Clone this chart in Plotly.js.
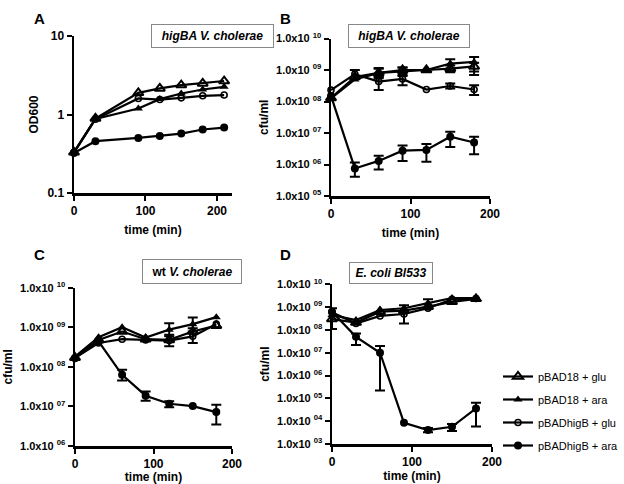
<!DOCTYPE html>
<html><head><meta charset="utf-8">
<script src="https://cdn.plot.ly/plotly-3.0.1.min.js"></script>
<style>html,body{margin:0;padding:0;background:#fff}#chart{width:624px;height:484px}</style>
</head><body><div id="chart"></div>
<script>
// ---------- DATA ----------
const seriesNames = ['pBAD18 + glu', 'pBAD18 + ara', 'pBADhigB + glu', 'pBADhigB + ara'];

// Panel A: OD600, higBA V. cholerae
const timeA = [0, 30, 90, 120, 150, 180, 210];
const odA_glu18  = [0.33, 0.89, 1.89, 2.15, 2.37, 2.49, 2.67];
const odA_ara18  = [0.33, 0.88, 1.19, 1.57, 1.85, 2.08, 2.25];
const odA_gluHig = [0.33, 0.87, 1.60, 1.55, 1.63, 1.73, 1.77];
const odA_araHig = [0.324, 0.457, 0.503, 0.534, 0.572, 0.644, 0.682];

// Panels B-D share time points
const timeBCD = [0, 30, 60, 90, 120, 150, 180];

// Panel B: cfu/ml, higBA V. cholerae
const cfuB_glu18     = [1.3e8, 6.0e8, 8.1e8, 1.0e9, 1.0e9, 1.1e9, 1.3e9];
const cfuB_glu18_hi  = [null, null, 1.1e9, 1.2e9, null, 1.4e9, 1.7e9];
const cfuB_glu18_lo  = [null, null, 6.0e8, 8.0e8, null, 8.5e8, 9.0e8];
const cfuB_ara18     = [1.26e8, 5.0e8, 8.1e8, 8.8e8, 1.0e9, 1.6e9, 1.8e9];
const cfuB_ara18_hi  = [null, null, 1.15e9, 1.2e9, null, 2.2e9, 2.6e9];
const cfuB_ara18_lo  = [null, null, 5.5e8, 6.5e8, null, 1.1e9, 7.0e8];
const cfuB_gluHig    = [2.3e8, 7.4e8, 4.3e8, 5.2e8, 2.4e8, 3.1e8, 2.4e8];
const cfuB_gluHig_hi = [null, 1.0e9, 6.5e8, 6.9e8, null, 3.7e8, 3.3e8];
const cfuB_gluHig_lo = [null, 5.5e8, 2.3e8, 3.3e8, null, 2.6e8, 1.6e8];
const cfuB_araHig    = [1.5e8, 7.5e5, 1.3e6, 2.75e6, 2.9e6, 7.6e6, 5.0e6];
const cfuB_araHig_hi = [null, 1.15e6, 1.9e6, 4.0e6, 4.5e6, 1.1e7, 7.6e6];
const cfuB_araHig_lo = [null, 4.1e5, 7.0e5, 1.3e6, 1.23e6, 3.6e6, 2.1e6];

// Panel C: cfu/ml, wt V. cholerae
const cfuC_glu18     = [1.7e8, 4.8e8, 7.8e8, 5.0e8, 4.8e8, 7.8e8, 1.1e9];
const cfuC_glu18_hi  = [null, null, null, null, 6.5e8, null, null];
const cfuC_glu18_lo  = [null, null, null, null, 3.3e8, null, null];
const cfuC_ara18     = [1.8e8, 5.6e8, 1.0e9, 5.5e8, 8.7e8, 1.2e9, 1.8e9];
const cfuC_ara18_hi  = [null, null, null, null, 1.26e9, 1.77e9, null];
const cfuC_ara18_lo  = [null, null, null, null, 5.9e8, 7.8e8, null];
const cfuC_gluHig    = [1.7e8, 4.0e8, 5.0e8, 4.8e8, 4.6e8, 5.9e8, 1.2e9];
const cfuC_gluHig_hi = [null, null, null, null, null, 9.5e8, null];
const cfuC_gluHig_lo = [null, null, null, null, null, 4.0e8, null];
const cfuC_araHig    = [1.66e8, 4.4e8, 6.3e7, 1.87e7, 1.17e7, 1.02e7, 7.2e6];
const cfuC_araHig_hi = [null, null, 8.5e7, 2.4e7, 1.35e7, null, 1.1e7];
const cfuC_araHig_lo = [null, null, 4.5e7, 1.4e7, 9.5e6, null, 3.5e6];

// Panel D: cfu/ml, E. coli Bl533
const cfuD_glu18     = [3.0e8, 2.1e8, 6.3e8, 7.0e8, 1.05e9, 1.7e9, 2.3e9];
const cfuD_glu18_hi  = [null, null, null, null, null, null, null];
const cfuD_glu18_lo  = [null, null, null, null, null, null, null];
const cfuD_ara18     = [4.5e8, 2.7e8, 7.5e8, 8.9e8, 1.5e9, 2.5e9, 2.5e9];
const cfuD_ara18_hi  = [null, null, null, null, 2.2e9, null, null];
const cfuD_ara18_lo  = [null, null, null, null, 9.0e8, null, null];
const cfuD_gluHig    = [6.0e8, 1.9e8, 4.1e8, 5.0e8, 9.0e8, 2.2e9, 2.4e9];
const cfuD_gluHig_hi = [null, null, null, 1.2e9, null, null, null];
const cfuD_gluHig_lo = [null, null, null, 1.9e8, null, null, null];
const cfuD_araHig    = [6.3e8, 5.0e7, 1.0e7, 8.5e3, 4.1e3, 5.7e3, 3.6e4];
const cfuD_araHig_hi = [8.9e8, 7.0e7, 2.0e7, null, 5.0e3, 7.6e3, 6.5e4];
const cfuD_araHig_lo = [1.1e8, 2.2e7, 2.2e5, null, 3.3e3, 3.7e3, 5.8e3];

// tick labels
const tickA_vals = [0.1, 1, 10];
const tickA_text = ['0.1', '1', '10'];
const xTicks = [0, 100, 200];
const expB = [5, 6, 7, 8, 9, 10];
const expC = [6, 7, 8, 9, 10];
const expD = [3, 4, 5, 6, 7, 8, 9, 10];

// ---------- BUILD ----------
const FONT = 'Liberation Sans, Arial, sans-serif';
const markerStyles = [
  {symbol: 'triangle-up-open', size: 9, line: {width: 2, color: '#000'}, color: '#000'},
  {symbol: 'triangle-up', size: 8, color: '#000'},
  {symbol: 'circle-open', size: 6, line: {width: 1.6, color: '#000'}, color: '#000'},
  {symbol: 'circle', size: 8, color: '#000'}
];

function errObj(y, hi, lo) {
  if (!hi) return {visible: false};
  return {
    type: 'data', symmetric: false, visible: true,
    array: y.map((v, i) => hi[i] == null ? NaN : hi[i] - v),
    arrayminus: y.map((v, i) => lo[i] == null ? NaN : v - lo[i]),
    color: '#000', thickness: 2, width: 5
  };
}

const traces = [];
function add(x, y, hi, lo, k, xa, ya, show) {
  traces.push({
    type: 'scatter', mode: 'lines+markers', x: x, y: y,
    xaxis: xa, yaxis: ya, name: seriesNames[k], legendgroup: seriesNames[k],
    showlegend: !!show, cliponaxis: false,
    line: {color: '#000', width: 2.2},
    marker: markerStyles[k],
    error_y: errObj(y, hi, lo)
  });
}

add(timeA, odA_glu18, null, null, 0, 'x', 'y');
add(timeA, odA_ara18, null, null, 1, 'x', 'y');
add(timeA, odA_gluHig, null, null, 2, 'x', 'y');
add(timeA, odA_araHig, null, null, 3, 'x', 'y');

add(timeBCD, cfuB_glu18, cfuB_glu18_hi, cfuB_glu18_lo, 0, 'x2', 'y2');
add(timeBCD, cfuB_ara18, cfuB_ara18_hi, cfuB_ara18_lo, 1, 'x2', 'y2');
add(timeBCD, cfuB_gluHig, cfuB_gluHig_hi, cfuB_gluHig_lo, 2, 'x2', 'y2');
add(timeBCD, cfuB_araHig, cfuB_araHig_hi, cfuB_araHig_lo, 3, 'x2', 'y2');

add(timeBCD, cfuC_glu18, cfuC_glu18_hi, cfuC_glu18_lo, 0, 'x3', 'y3');
add(timeBCD, cfuC_ara18, cfuC_ara18_hi, cfuC_ara18_lo, 1, 'x3', 'y3');
add(timeBCD, cfuC_gluHig, cfuC_gluHig_hi, cfuC_gluHig_lo, 2, 'x3', 'y3');
add(timeBCD, cfuC_araHig, cfuC_araHig_hi, cfuC_araHig_lo, 3, 'x3', 'y3');

add(timeBCD, cfuD_glu18, cfuD_glu18_hi, cfuD_glu18_lo, 0, 'x4', 'y4', true);
add(timeBCD, cfuD_ara18, cfuD_ara18_hi, cfuD_ara18_lo, 1, 'x4', 'y4', true);
add(timeBCD, cfuD_gluHig, cfuD_gluHig_hi, cfuD_gluHig_lo, 2, 'x4', 'y4', true);
add(timeBCD, cfuD_araHig, cfuD_araHig_hi, cfuD_araHig_lo, 3, 'x4', 'y4', true);

const W = 624, H = 484;
const px = v => v / W;
const py = v => 1 - v / H;

const base = {
  showline: true, linewidth: 2.5, linecolor: '#000', ticks: 'outside', ticklen: 5,
  tickwidth: 2, tickcolor: '#000', showgrid: false, zeroline: false, fixedrange: true,
  tickfont: {family: FONT, size: 12, color: '#000', weight: 'bold'}
};
function xAxis(dom, range, anchor, standoff) {
  return Object.assign({}, base, {
    domain: dom, range: range, anchor: anchor, tickvals: xTicks, ticktext: xTicks.map(String),
    title: {text: 'time (min)', font: {family: FONT, size: 12, color: '#000', weight: 'bold'}, standoff: standoff}
  });
}
function yAxisCfu(dom, exps, anchor) {
  return Object.assign({}, base, {
    type: 'log', domain: dom, anchor: anchor,
    range: [exps[0], exps[exps.length - 1]],
    tickvals: exps.map(e => Math.pow(10, e)),
    ticktext: exps.map(e => '1.0x10 <sup>' + (e < 10 ? '0' + e : e) + '</sup>'),
    tickfont: {family: FONT, size: 11, color: '#000', weight: 'bold'},
    title: {text: 'cfu/ml', font: {family: FONT, size: 12, color: '#000', weight: 'bold'}, standoff: 5}
  });
}

const layout = {
  width: W, height: H, margin: {l: 0, r: 0, t: 0, b: 0},
  paper_bgcolor: '#fff', plot_bgcolor: '#fff',
  font: {family: FONT, color: '#000'},
  xaxis: xAxis([px(74), px(232)], [0, 221], 'y', 9),
  yaxis: Object.assign({}, base, {
    type: 'log', domain: [py(193), py(36)], anchor: 'x', range: [-1, 1],
    tickvals: tickA_vals, ticktext: tickA_text,
    title: {text: 'OD600', font: {family: FONT, size: 12, color: '#000', weight: 'bold'}, standoff: 6}
  }),
  xaxis2: xAxis([px(331), px(490)], [0, 200], 'y2', 9),
  yaxis2: yAxisCfu([py(196), py(38.5)], expB, 'x2'),
  xaxis3: xAxis([px(75), px(232)], [0, 200], 'y3', 9),
  yaxis3: yAxisCfu([py(446), py(287.7)], expC, 'x3'),
  xaxis4: xAxis([px(332), px(492)], [0, 200], 'y4', 0),
  yaxis4: yAxisCfu([py(444), py(284.3)], expD, 'x4'),
  showlegend: true,
  legend: {
    x: 1, y: py(362), xanchor: 'right', yanchor: 'top',
    font: {family: FONT, size: 11, color: '#000'}, bgcolor: 'rgba(0,0,0,0)',
    tracegroupgap: 4, traceorder: 'grouped'
  },
  annotations: [
    {text: 'A', x: px(32), y: py(8), xref: 'paper', yref: 'paper', showarrow: false, font: {family: FONT, size: 15, weight: 'bold'}},
    {text: 'B', x: px(285), y: py(8), xref: 'paper', yref: 'paper', showarrow: false, font: {family: FONT, size: 15, weight: 'bold'}},
    {text: 'C', x: px(32), y: py(254), xref: 'paper', yref: 'paper', showarrow: false, font: {family: FONT, size: 15, weight: 'bold'}},
    {text: 'D', x: px(285), y: py(254), xref: 'paper', yref: 'paper', showarrow: false, font: {family: FONT, size: 15, weight: 'bold'}},
    {text: '<i>higBA V. cholerae</i>', x: px(150.5), y: py(24), xref: 'paper', yref: 'paper', showarrow: false,
     width: 121, height: 22, borderpad: 0, bordercolor: '#888', borderwidth: 1,
     font: {family: FONT, size: 12, weight: 'bold'}},
    {text: '<i>higBA V. cholerae</i>', x: px(409), y: py(24), xref: 'paper', yref: 'paper', showarrow: false,
     width: 120, height: 22, borderpad: 0, bordercolor: '#888', borderwidth: 1,
     font: {family: FONT, size: 12, weight: 'bold'}},
    {text: 'wt <i>V. cholerae</i>', x: px(142), y: py(271.5), xref: 'paper', yref: 'paper', showarrow: false,
     width: 98, height: 23, borderpad: 0, bordercolor: '#888', borderwidth: 1,
     font: {family: FONT, size: 12, weight: 'bold'}},
    {text: '<i>E. coli Bl533</i>', x: px(391), y: py(273), xref: 'paper', yref: 'paper', showarrow: false,
     width: 82, height: 20, borderpad: 0, bordercolor: '#888', borderwidth: 1,
     font: {family: FONT, size: 12, weight: 'bold'}}
  ]
};

Plotly.newPlot('chart', traces, layout, {staticPlot: true, displayModeBar: false});
</script>
</body></html>
